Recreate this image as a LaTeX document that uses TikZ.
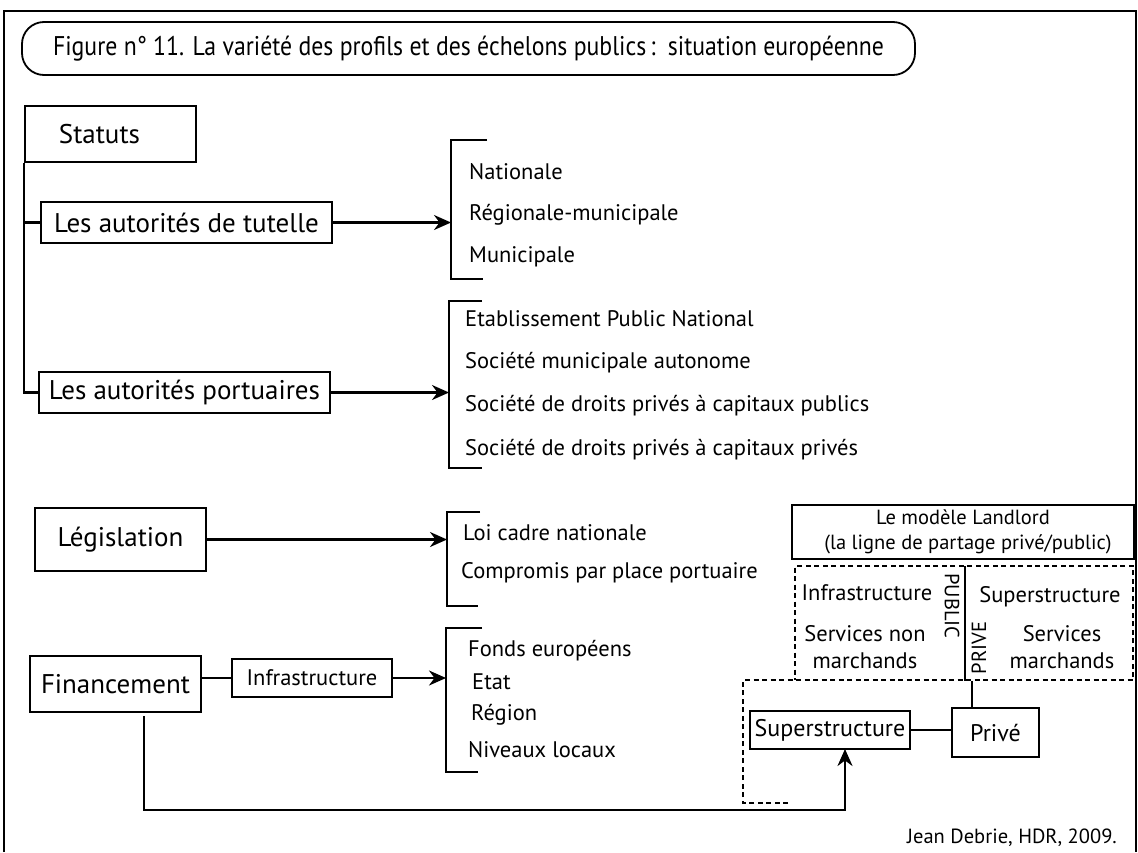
\documentclass[tikz,border=0pt]{standalone}
\usepackage{fontspec}
\setmainfont{PT Sans}
\usetikzlibrary{arrows.meta}

\tikzstyle{bigfont} = [font=\fontsize{27}{32}\selectfont]
\tikzstyle{boxfont} = [font=\fontsize{24}{28}\selectfont]
\tikzstyle{itemfont} = [font=\fontsize{22.5}{27}\selectfont]
\tikzstyle{smallfont} = [font=\fontsize{20.5}{24}\selectfont]
\tikzstyle{labelbox} = [draw,line width=2.2pt,inner sep=0pt]
\tikzstyle{item} = [itemfont,anchor=west,inner sep=0pt]
\tikzstyle{edge} = [draw,line width=2.2pt,-]
\tikzstyle{arrowdecorate} = [-{Stealth[length=17pt,width=15pt]},line width=2.2pt]
\tikzstyle{dotline} = [draw,line width=2.2pt,dash pattern=on 5pt off 3.5pt]

\begin{document}
\begin{tikzpicture}[x=1pt,y=-1pt]
    \useasboundingbox (0,0) rectangle (1138,852);
    %% frame and title
    \draw[line width=1.8pt] (4,852) -- (4,11) -- (1136,11) -- (1136,852);
    \node[draw,line width=1.8pt,rounded corners=22pt,minimum width=893pt,minimum height=53pt,
      font=\fontsize{27}{32}\selectfont] (title) at (468.5,48.5)
      {\scalebox{0.88}[1]{Figure n° 11. La variété des profils et des échelons publics\,:\, situation européenne}};

    %% left boxes
    \foreach \nodename/\x/\y/\w/\h/\style/\text in {
      statuts/110.5/134/171/56/bigfont/Statuts\hspace*{22pt},
      tutelle/186.5/222.5/291/41/bigfont/Les autorités de tutelle,
      portuaires/184.5/392.5/291/41/bigfont/Les autorités portuaires,
      legislation/120.5/539.5/171/63/bigfont/Législation,
      financement/115.5/684/171/56/bigfont/Financement,
      infra/312/678/160/38/itemfont/Infrastructure,
      superstr/830/730/160/38/boxfont/Superstructure,
      prive/995.5/732.5/87/49/boxfont/Privé}
    {
      \node[labelbox,\style,minimum width=\w pt,minimum height=\h pt] (\nodename) at (\x,\y) {\text};
    }

    %% brackets
    \foreach \bname/\x/\top/\bot/\ttick/\btick in {
      b1/451/140/279/487/483,
      b2/449/301/468/482/482,
      b3/447/512/606/480/478,
      b4/446/628/772/482/478}
    {
      \coordinate (\bname) at (\x,\top);
      \draw[edge] (\ttick,\top) -- (\x,\top) -- (\x,\bot) -- (\btick,\bot);
    }

    %% bracket items
    \foreach \itemname/\x/\y/\text in {
      nat/469/172/Nationale,
      reg/469/215/Régionale-municipale,
      mun/469/257/Municipale,
      epn/465/319/Etablissement Public National,
      sma/465/363/Société municipale autonome,
      sdpub/465/406/Société de droits privés à capitaux publics,
      sdpriv/465/450/Société de droits privés à capitaux privés,
      loi/463/533/Loi cadre nationale,
      comp/461/573/Compromis par place portuaire,
      fonds/468/651/Fonds européens,
      etat/472/682/Etat,
      region/471/715/Région,
      niveaux/468/750/Niveaux locaux}
    {
      \node[item] (\itemname) at (\x,\y) {\text};
    }

    %% edges or lines
    \draw[edge] (statuts.south west) |- (portuaires.west);
    \draw[edge] (statuts.south west |- tutelle.west) -- (tutelle.west);
    \foreach \startnode/\bname in {tutelle/b1, portuaires/b2, legislation/b3, infra/b4}
    {
      \draw[arrowdecorate] (\startnode.east) -- (\startnode.east -| \bname);
    }
    \draw[edge] (financement.east |- infra.west) -- (infra.west);
    \coordinate (finout) at (144,716);
    \coordinate (supin) at (845,749);
    \draw[arrowdecorate] (finout) |- (supin |- 0,810) -- (supin);
    \draw[edge] (superstr.east) -- (superstr.east -| prive.west);

    %% landlord model
    \node[labelbox,smallfont,minimum width=342pt,minimum height=54pt,align=center] (landlord) at (963,532)
      {Le modèle Landlord\\[1pt] \hspace*{10pt}(la ligne de partage privé/public)};
    \draw[dotline] (788,803) -- (743,803) -- (743,680) -- (1133,680) -- (1133,566) -- (795,566) -- (795,680);
    \coordinate (divtop) at (965,566);
    \coordinate (divbot) at (965,681);
    \draw[edge] (divtop) -- (divbot);
    \coordinate (split) at (972,681);
    \draw[edge] (split) -- (split |- prive.north);
    \node[smallfont,rotate=-90,inner sep=0pt] (public) at (952,606) {PUBLIC};
    \node[smallfont,rotate=90,inner sep=0pt] (priv) at (979,648) {PRIVE};
    \node[itemfont,inner sep=0pt] (infratxt) at (867,593) {Infrastructure};
    \node[itemfont,inner sep=0pt,align=center] (snm) at (865,647) {Services non\\ marchands};
    \node[itemfont,inner sep=0pt] (supertxt) at (1050,597) {Superstructure};
    \node[itemfont,inner sep=0pt,align=center] (sm) at (1062,647) {Services\\ marchands};

    %% source
    \node[smallfont,anchor=east,inner sep=0pt] (source) at (1117,838) {Jean Debrie, HDR, 2009.};
\end{tikzpicture}
\end{document}
